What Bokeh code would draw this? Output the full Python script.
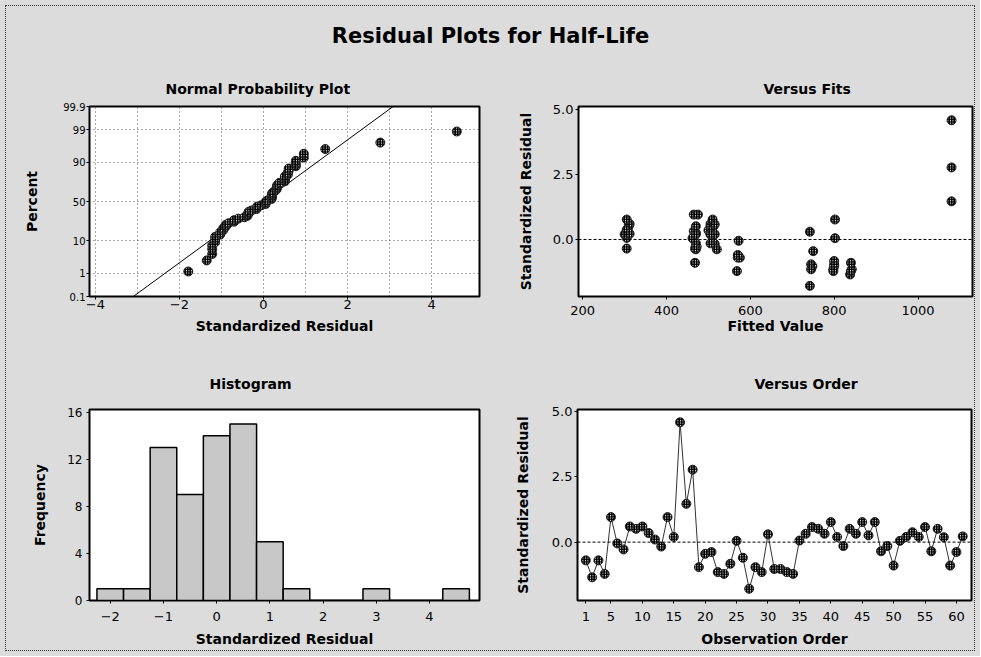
import numpy as np
from statistics import NormalDist
from bokeh.plotting import figure
from bokeh.layouts import column, row
from bokeh.models import Range1d, FixedTicker, Span, NumeralTickFormatter
from bokeh.embed import file_html
from bokeh.resources import INLINE

# ---------------- data ----------------
residuals = [-0.70, -1.35, -0.70, -1.22, 0.96, -0.05, -0.28, 0.60, 0.51, 0.60,
             0.35, 0.10, -0.17, 0.96, 0.20, 4.60, 1.47, 2.78, -0.96, -0.45,
             -0.38, -1.15, -1.22, -0.83, 0.05, -0.60, -1.79, -0.96, -1.15, 0.30,
             -1.03, -1.03, -1.15, -1.22, 0.06, 0.32, 0.58, 0.51, 0.32, 0.77,
             0.20, -0.15, 0.51, 0.32, 0.77, 0.26, 0.77, -0.35, -0.15, -0.90,
             0.05, 0.20, 0.38, 0.20, 0.58, -0.35, 0.51, 0.19, -0.90, -0.38, 0.22]
fits = [570, 838, 575, 568, 465, 572, 472, 505, 512, 312,
        500, 465, 515, 475, 505, 1080, 1080, 1080, 800, 750,
        470, 842, 840, 800, 802, 570, 742, 745, 798, 742,
        748, 800, 745, 798, 305, 308, 310, 505, 465, 802,
        300, 470, 310, 508, 510, 470, 305, 468, 505, 468,
        462, 515, 305, 470, 515, 305, 470, 505, 840, 520, 312]
order = list(range(1, len(residuals) + 1))
percent_ticks = [0.1, 1, 10, 50, 90, 99, 99.9]
hist_bin_width = 0.5
hist_first_center = -2.0
hist_last_center = 4.5
order_ticks = [1, 5, 10, 15, 20, 25, 30, 35, 40, 45, 50, 55, 60]

# ---------------- derived ----------------
nd = NormalDist()
n = len(residuals)
res_sorted = sorted(residuals)
z_points = [nd.inv_cdf((i - 0.3) / (n + 0.4)) for i in range(1, n + 1)]
z_ticks = [round(nd.inv_cdf(p / 100.0), 6) for p in percent_ticks]
mu = float(np.mean(residuals))
sd = float(np.std(residuals, ddof=1))
z_lo, z_hi = z_ticks[0], z_ticks[-1]
line_z = [z_lo, z_hi]
line_x = [mu + z * sd for z in line_z]

centers = np.arange(hist_first_center, hist_last_center + 1e-9, hist_bin_width)
edges = np.append(centers - hist_bin_width / 2, centers[-1] + hist_bin_width / 2)
counts, _ = np.histogram(residuals, bins=edges)

FONT = "DejaVu Sans"
BG = "#dcdcdc"


def make_fig(w, h, title, xr, yr, ml, mr, mt, mb, title_offset, title_standoff):
    p = figure(width=w, height=h, x_range=Range1d(*xr), y_range=Range1d(*yr),
               output_backend="svg", toolbar_location=None, title=title,
               min_border_left=ml, min_border_right=mr,
               min_border_top=mt, min_border_bottom=mb)
    p.border_fill_color = BG
    p.background_fill_color = "white"
    p.outline_line_color = "black"
    p.outline_line_width = 2
    p.title.text_font = FONT
    p.title.text_font_size = "14px"
    p.title.text_font_style = "bold"
    p.title.align = "left"
    p.title.offset = title_offset
    p.title.standoff = title_standoff
    p.title.text_color = "black"
    p.grid.visible = False
    for ax in p.axis:
        ax.axis_line_color = "black"
        ax.axis_line_width = 1
        ax.major_tick_out = 3
        ax.major_tick_in = 0
        ax.minor_tick_out = 0
        ax.minor_tick_in = 0
        ax.major_label_text_font = FONT
        ax.major_label_text_font_size = "13px"
        ax.major_label_text_color = "black"
        ax.axis_label_text_font = FONT
        ax.axis_label_text_font_style = "bold"
        ax.axis_label_text_font_size = "14px"
        ax.axis_label_text_color = "black"
    return p


def markers(p, x, y):
    p.scatter(x, y, marker="circle", size=9, fill_color="white",
              hatch_pattern="right_diagonal_line", hatch_color="black",
              hatch_scale=2.5, hatch_weight=1.5,
              line_color="#111111", line_width=0.9)


# ---------------- main title ----------------
p0 = figure(width=968, height=54, output_backend="svg", toolbar_location=None,
            x_axis_type=None, y_axis_type=None,
            title="Residual Plots for Half-Life",
            min_border_top=46, min_border_bottom=0, min_border_left=0, min_border_right=0)
p0.border_fill_color = BG
p0.background_fill_color = BG
p0.outline_line_color = None
p0.grid.visible = False
p0.title.align = "center"
p0.title.text_font = FONT
p0.title.text_font_size = "21px"
p0.title.text_font_style = "bold"
p0.title.text_color = "black"

# ---------------- normal probability plot ----------------
p1 = make_fig(494, 290, "Normal Probability Plot", (-4.14, 5.14), (z_lo, z_hi),
              83, 21, 46, 54, 76, 20)
p1.xaxis.ticker = FixedTicker(ticks=[-4, -2, 0, 2, 4])
p1.yaxis.ticker = FixedTicker(ticks=z_ticks)
p1.yaxis.major_label_overrides = {z: ("%g" % pc) for z, pc in zip(z_ticks, percent_ticks)}
p1.yaxis.major_label_text_font_size = "10px"
p1.xaxis.axis_label = "Standardized Residual"
p1.yaxis.axis_label = "Percent"
p1.xaxis.major_label_standoff = 0
p1.xaxis.axis_label_standoff = 6
p1.yaxis.major_label_standoff = 1
p1.yaxis.axis_label_standoff = 20
p1.grid.visible = True
p1.xgrid.ticker = FixedTicker(ticks=[-4, -3, -2, -1, 0, 1, 2, 3, 4])
p1.ygrid.ticker = FixedTicker(ticks=z_ticks)
p1.grid.grid_line_color = "#555555"
p1.grid.grid_line_dash = "1 3"
p1.grid.grid_line_width = 1
p1.line(line_x, line_z, line_color="black", line_width=1)
markers(p1, res_sorted, z_points)

# ---------------- versus fits ----------------
p2 = make_fig(474, 290, "Versus Fits", (190, 1130), (-2.2, 5.13),
              78, 2, 46, 54, 185, 20)
p2.xaxis.ticker = FixedTicker(ticks=[200, 400, 600, 800, 1000])
p2.yaxis.ticker = FixedTicker(ticks=[0, 2.5, 5.0])
p2.yaxis.formatter = NumeralTickFormatter(format="0.0")
p2.xaxis.axis_label = "Fitted Value"
p2.yaxis.axis_label = "Standardized Residual"
p2.xaxis.major_label_standoff = 6
p2.xaxis.axis_label_standoff = 0
p2.yaxis.major_label_standoff = 2
p2.yaxis.axis_label_standoff = 16
p2.add_layout(Span(location=0, dimension="width", line_color="black",
                   line_width=1, line_dash="3 2"))
markers(p2, fits, residuals)

# ---------------- histogram ----------------
p3 = make_fig(494, 300, "Histogram", (-2.39, 4.94), (0, 16.23),
              83, 21, 59, 50, 120, 36)
p3.xaxis.ticker = FixedTicker(ticks=[-2, -1, 0, 1, 2, 3, 4])
p3.yaxis.ticker = FixedTicker(ticks=[0, 4, 8, 12, 16])
p3.yaxis.major_label_text_font_size = "12px"
p3.xaxis.axis_label = "Standardized Residual"
p3.yaxis.axis_label = "Frequency"
p3.xaxis.major_label_standoff = 8
p3.xaxis.axis_label_standoff = 7
p3.yaxis.major_label_standoff = 4
p3.yaxis.axis_label_standoff = 16
p3.vbar(x=centers, top=counts, bottom=0, width=hist_bin_width,
        fill_color="#c8c8c8", line_color="black", line_width=1.5)

# ---------------- versus order ----------------
p4 = make_fig(474, 300, "Versus Order", (-0.33, 62.4), (-2.24, 5.09),
              77, 3, 59, 50, 177, 36)
p4.xaxis.ticker = FixedTicker(ticks=order_ticks)
p4.yaxis.ticker = FixedTicker(ticks=[0, 2.5, 5.0])
p4.yaxis.formatter = NumeralTickFormatter(format="0.0")
p4.xaxis.axis_label = "Observation Order"
p4.yaxis.axis_label = "Standardized Residual"
p4.xaxis.major_label_standoff = 8
p4.xaxis.axis_label_standoff = 7
p4.yaxis.major_label_standoff = 2
p4.yaxis.axis_label_standoff = 18
p4.add_layout(Span(location=0, dimension="width", line_color="black",
                   line_width=1, line_dash="3 2"))
p4.line(order, residuals, line_color="#333333", line_width=1)
markers(p4, order, residuals)

bgstyle = {"background-color": BG}
inner = column(p0,
               row(p1, p2, spacing=0, styles=bgstyle),
               row(p3, p4, spacing=0, styles=bgstyle),
               spacing=0,
               styles={"background-color": BG, "border": "1px dotted #333333"})
layout = column(inner, spacing=0,
                styles={"background-color": BG, "padding": "5px"})
open("out.html", "w").write(file_html(layout, INLINE))
